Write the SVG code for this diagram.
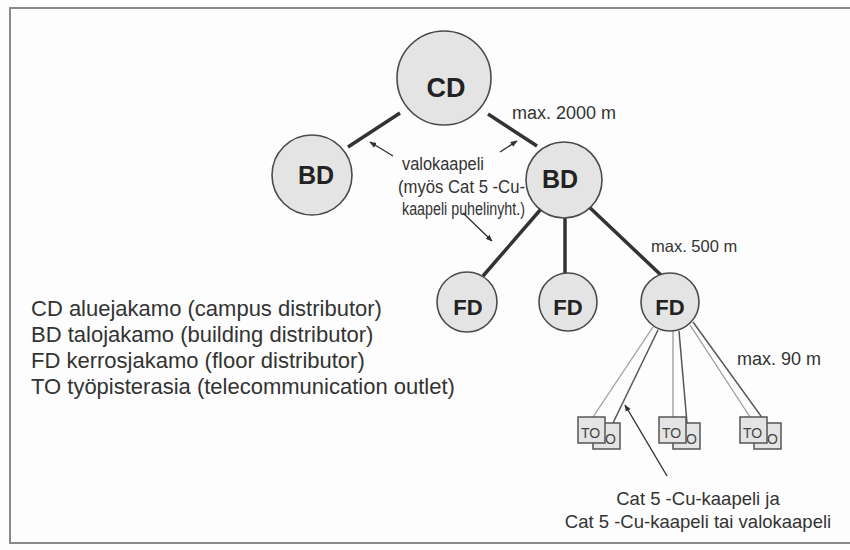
<svg xmlns="http://www.w3.org/2000/svg" width="850" height="550" viewBox="0 0 850 550">
<defs>
<style>
.bg{fill:#fdfdfd}
.frame{stroke:#8a8a8a;stroke-width:2;fill:none}
.node{fill:#e4e4e4;stroke:#4a4a4a;stroke-width:1.6}
.nlbl{font-family:"Liberation Sans",Arial,sans-serif;font-weight:bold;fill:#222;text-anchor:middle}
.lbl{font-family:"Liberation Sans",Arial,sans-serif;fill:#333}
.thick{stroke:#333;stroke-width:3.5;stroke-linecap:butt;fill:none}
.thinL{stroke:#9a9a9a;stroke-width:1.3;fill:none}
.thinD{stroke:#555;stroke-width:1.5;fill:none}
.arr{stroke:#333;stroke-width:1.4;fill:none;marker-end:url(#ah)}
.box{fill:#e4e4e4;stroke:#555;stroke-width:1.5}
.tol{font-family:"Liberation Sans",Arial,sans-serif;font-size:14px;fill:#444}
</style>
<marker id="ah" viewBox="0 0 10 10" refX="9" refY="5" markerWidth="7" markerHeight="7" orient="auto" markerUnits="userSpaceOnUse">
<path d="M0,1 L10,5 L0,9 Z" fill="#333"/>
</marker>
</defs>
<rect class="bg" x="0" y="0" width="850" height="550"/>
<path class="frame" d="M850,8 H10 V543 H850"/>

<g id="connectors">
<line class="thick" x1="400" y1="113" x2="348" y2="147"/>
<line class="thick" x1="488" y1="114" x2="537" y2="146"/>
<line class="thick" x1="541" y1="209" x2="483" y2="276"/>
<line class="thick" x1="565" y1="218" x2="565" y2="273"/>
<line class="thick" x1="587" y1="205" x2="663" y2="277"/>
<line class="thinL" x1="653" y1="327" x2="593" y2="417"/>
<line class="thinD" x1="658" y1="330" x2="613" y2="423"/>
<line class="thinL" x1="673" y1="331" x2="673" y2="417"/>
<line class="thinD" x1="679" y1="331" x2="687" y2="423"/>
<line class="thinL" x1="690" y1="325" x2="750" y2="417"/>
<line class="thinD" x1="693" y1="322" x2="766" y2="423"/>
<line class="arr" x1="393" y1="156" x2="370" y2="142"/>
<line class="arr" x1="500" y1="152" x2="517" y2="141"/>
<line class="arr" x1="463" y1="213" x2="492" y2="241"/>
<line class="arr" x1="667" y1="476" x2="625" y2="405"/>
</g>

<g id="CD">
<circle class="node" cx="444" cy="78" r="47"/>
<text class="nlbl" x="446" y="97" font-size="27">CD</text>
</g>
<g id="BD1">
<circle class="node" cx="312" cy="175" r="40"/>
<text class="nlbl" x="316" y="184" font-size="25">BD</text>
</g>
<g id="BD2">
<circle class="node" cx="564" cy="180" r="38"/>
<text class="nlbl" x="560" y="188" font-size="25">BD</text>
</g>
<g id="FD1">
<circle class="node" cx="467" cy="302" r="30"/>
<text class="nlbl" x="468" y="315" font-size="22">FD</text>
</g>
<g id="FD2">
<circle class="node" cx="568" cy="302" r="29"/>
<text class="nlbl" x="568" y="315" font-size="22">FD</text>
</g>
<g id="FD3">
<circle class="node" cx="670" cy="302" r="29"/>
<text class="nlbl" x="670" y="315" font-size="22">FD</text>
</g>

<g id="TO1">
<rect class="box" x="593" y="423" width="27" height="26"/>
<text class="tol" x="605" y="444">O</text>
<rect class="box" x="578" y="417" width="27" height="26"/>
<text class="tol" x="581" y="438">TO</text>
</g>
<g id="TO2">
<rect class="box" x="673" y="423" width="27" height="26"/>
<text class="tol" x="686" y="444">O</text>
<rect class="box" x="659" y="417" width="27" height="26"/>
<text class="tol" x="662" y="438">TO</text>
</g>
<g id="TO3">
<rect class="box" x="754" y="423" width="27" height="26"/>
<text class="tol" x="767" y="444">O</text>
<rect class="box" x="740" y="417" width="27" height="26"/>
<text class="tol" x="743" y="438">TO</text>
</g>

<g id="labels">
<text class="lbl" x="512" y="119" font-size="18">max. 2000 m</text>
<text class="lbl" x="402" y="170" font-size="17.5" textLength="82" lengthAdjust="spacingAndGlyphs">valokaapeli</text>
<text class="lbl" x="398" y="193" font-size="17.5" textLength="127" lengthAdjust="spacingAndGlyphs">(myös Cat 5 -Cu-</text>
<text class="lbl" x="402" y="215" font-size="17.5" textLength="123" lengthAdjust="spacingAndGlyphs">kaapeli puhelinyht.)</text>
<text class="lbl" x="651" y="252" font-size="16.5">max. 500 m</text>
<text class="lbl" x="737" y="365" font-size="18">max. 90 m</text>
<text class="lbl" x="698" y="505" font-size="18.5" text-anchor="middle">Cat 5 -Cu-kaapeli ja</text>
<text class="lbl" x="698" y="528" font-size="18.5" text-anchor="middle">Cat 5 -Cu-kaapeli tai valokaapeli</text>
</g>

<g id="legend">
<text class="lbl" x="31" y="316" font-size="22">CD aluejakamo (campus distributor)</text>
<text class="lbl" x="31" y="342" font-size="22">BD talojakamo (building distributor)</text>
<text class="lbl" x="31" y="368" font-size="22">FD kerrosjakamo (floor distributor)</text>
<text class="lbl" x="31" y="394" font-size="22">TO työpisterasia (telecommunication outlet)</text>
</g>
</svg>
